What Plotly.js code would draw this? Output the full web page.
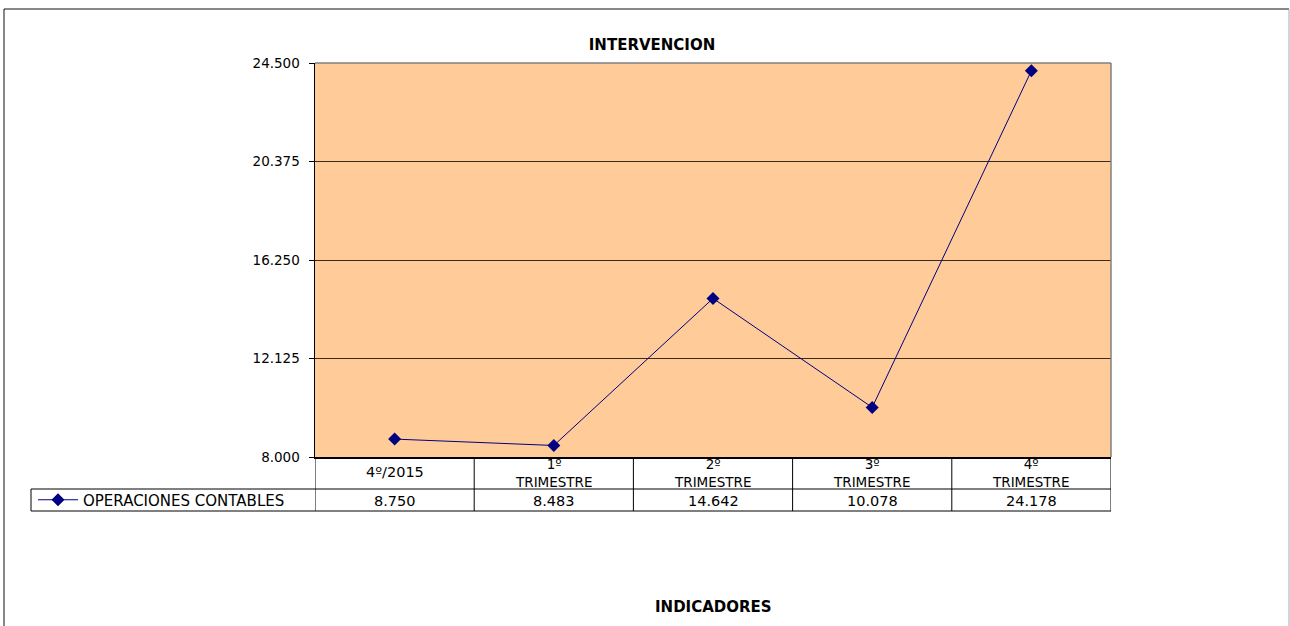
<!DOCTYPE html>
<html>
<head>
<meta charset="utf-8">
<script src="https://cdn.plot.ly/plotly-3.0.1.min.js"></script>
<style>html,body{margin:0;padding:0;background:#fff;}#chart{width:1290px;height:626px;}</style>
</head>
<body>
<div id="chart"></div>
<script>
// ---- data ----
var categories = ['4º/2015', '1º<br>TRIMESTRE', '2º<br>TRIMESTRE', '3º<br>TRIMESTRE', '4º<br>TRIMESTRE'];
var seriesName = 'OPERACIONES CONTABLES';
var values = [8750, 8483, 14642, 10078, 24178];
var yTickValues = [8000, 12125, 16250, 20375, 24500];
var chartTitle = 'INTERVENCION';
var xTitle = 'INDICADORES';

// ---- layout helpers ----
var W = 1290, H = 626;
var L = 315, R = 1111, T = 63, B = 457;
var pw = R - L, ph = B - T;
function px(x) { return (x - L) / pw; }
function py(y) { return (B - y) / ph; }
function fmt(v) {
  var s = String(Math.round(v));
  return s.replace(/\B(?=(\d{3})+(?!\d))/g, '.');
}

var FONT = 'DejaVu Sans, Arial, sans-serif';
var rowMid = 489, rowBot = 511;

var shapes = [];
var annotations = [];

// table vertical lines
for (var i = 0; i <= categories.length; i++) {
  shapes.push({type: 'line', xref: 'x', yref: 'paper', x0: i - 0.5, x1: i - 0.5,
    y0: 0, y1: py(rowBot), line: {color: '#000', width: 1}});
}
// table horizontal lines
shapes.push({type: 'line', xref: 'paper', yref: 'paper', x0: px(31), x1: 1, y0: py(rowMid), y1: py(rowMid), line: {color: '#000', width: 1}});
shapes.push({type: 'line', xref: 'paper', yref: 'paper', x0: px(31), x1: 1, y0: py(rowBot), y1: py(rowBot), line: {color: '#000', width: 1}});
shapes.push({type: 'line', xref: 'paper', yref: 'paper', x0: px(31), x1: px(31), y0: py(rowMid), y1: py(rowBot), line: {color: '#000', width: 1}});
// plot area top/right border (gray)
shapes.push({type: 'line', xref: 'paper', yref: 'paper', x0: 0, x1: 1, y0: 1, y1: 1, line: {color: '#808080', width: 1.5}});
shapes.push({type: 'line', xref: 'paper', yref: 'paper', x0: 1, x1: 1, y0: 0, y1: 1, line: {color: '#808080', width: 1.5}});
// outer chart border
shapes.push({type: 'line', xref: 'paper', yref: 'paper', x0: px(4), x1: px(1289), y0: py(9), y1: py(9), line: {color: '#111', width: 1}});
shapes.push({type: 'line', xref: 'paper', yref: 'paper', x0: px(4), x1: px(4), y0: py(9), y1: py(640), line: {color: '#111', width: 1}});
shapes.push({type: 'line', xref: 'paper', yref: 'paper', x0: px(1289), x1: px(1289), y0: py(9), y1: py(640), line: {color: '#aaa', width: 1}});

// category labels and values in table
for (var j = 0; j < categories.length; j++) {
  var twoLine = categories[j].indexOf('<br>') >= 0;
  annotations.push({xref: 'x', yref: 'paper', x: j, y: py(twoLine ? 472.5 : 472), text: categories[j],
    showarrow: false, xanchor: 'center', yanchor: 'middle',
    font: {family: FONT, size: twoLine ? 13.5 : 14.5, color: '#000'}});
  annotations.push({xref: 'x', yref: 'paper', x: j, y: py(500.5), text: fmt(values[j]),
    showarrow: false, xanchor: 'center', yanchor: 'middle',
    font: {family: FONT, size: 14.5, color: '#000'}});
}
// x title
annotations.push({xref: 'paper', yref: 'paper', x: px(713.5), y: py(607), text: '<b>' + xTitle + '</b>',
  showarrow: false, xanchor: 'center', yanchor: 'middle',
  font: {family: FONT, size: 15, color: '#000'}});

var trace = {
  type: 'scatter', mode: 'lines+markers', name: seriesName,
  x: categories, y: values,
  line: {color: '#000080', width: 1},
  marker: {symbol: 'diamond', size: 10, color: '#000080'}
};

var layout = {
  width: W, height: H,
  margin: {l: L, r: W - R, t: T, b: H - B, pad: 0},
  paper_bgcolor: '#ffffff',
  plot_bgcolor: '#FFCC99',
  separators: ',.',
  title: {text: '<b>' + chartTitle + '</b>', xref: 'container', x: 652 / W, xanchor: 'center',
    yref: 'container', y: 1 - 45 / H, yanchor: 'middle',
    font: {family: FONT, size: 15, color: '#000'}},
  showlegend: true,
  legend: {x: px(33), y: py(500), xanchor: 'left', yanchor: 'middle', orientation: 'h',
    bgcolor: 'rgba(0,0,0,0)', borderwidth: 0, itemwidth: 40,
    font: {family: FONT, size: 15, color: '#000'}},
  xaxis: {type: 'category', categoryarray: categories, range: [-0.5, categories.length - 0.5],
    showticklabels: false, ticks: '', showgrid: false, zeroline: false,
    showline: true, linecolor: '#000', linewidth: 1.5, fixedrange: true},
  yaxis: {range: [8000, 24500], tickmode: 'array', tickvals: yTickValues,
    ticktext: yTickValues.map(fmt), ticks: 'outside', ticklen: 5, tickcolor: '#000',
    ticklabelstandoff: 6,
    showline: true, linecolor: '#000', linewidth: 1.5,
    showgrid: true, gridcolor: '#3a2a1a', gridwidth: 1, zeroline: false,
    tickfont: {family: FONT, size: 13.5, color: '#000'}, fixedrange: true},
  shapes: shapes,
  annotations: annotations
};

Plotly.newPlot('chart', [trace], layout, {displayModeBar: false, staticPlot: true});
</script>
</body>
</html>
